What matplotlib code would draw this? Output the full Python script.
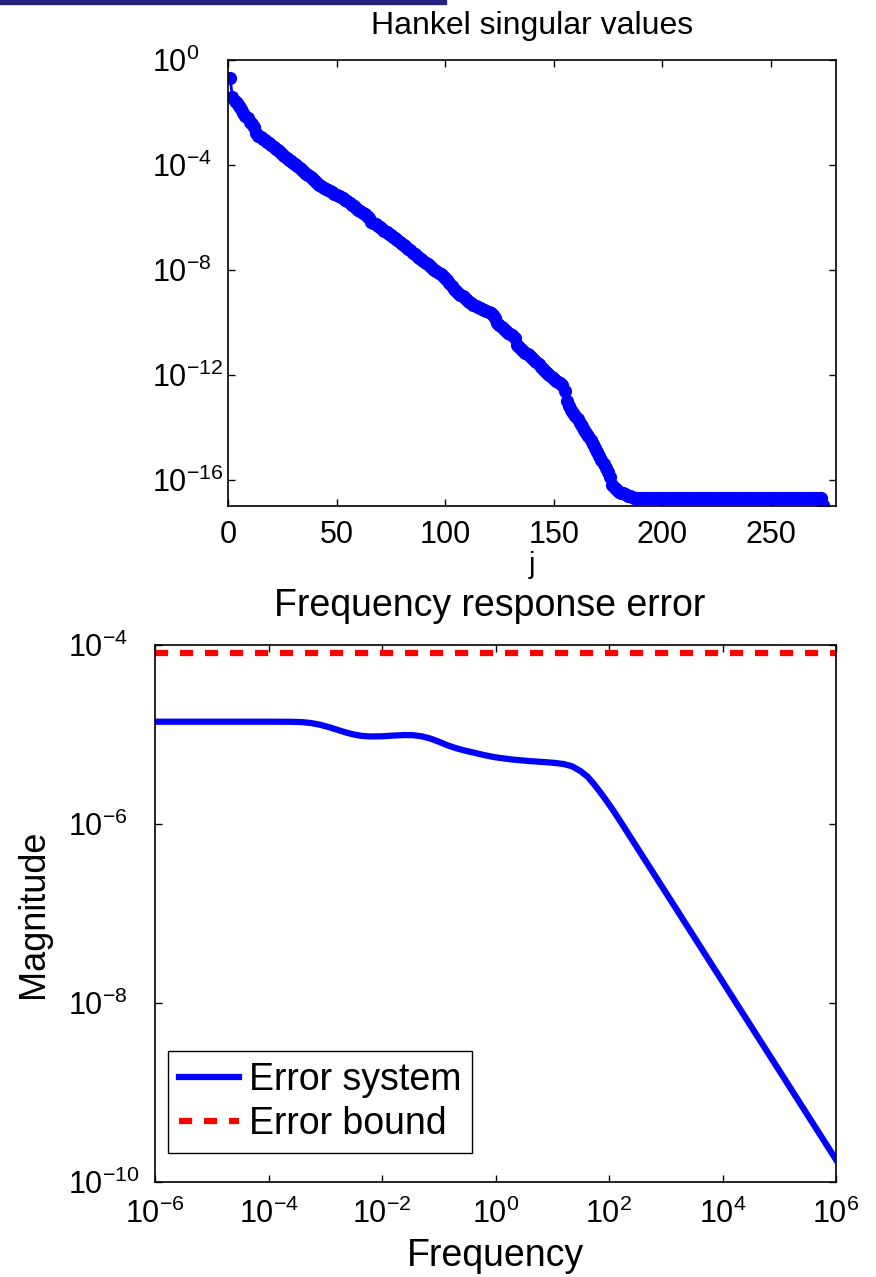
import matplotlib.pyplot as plt
import numpy as np
from matplotlib.patches import Rectangle

plt.rcParams['font.family'] = ['Liberation Sans', 'DejaVu Sans']
plt.rcParams['mathtext.fontset'] = 'custom'
plt.rcParams['mathtext.rm'] = 'Liberation Sans'
plt.rcParams['mathtext.it'] = 'Liberation Sans:italic'

# valores singulares de Hankel (log10), j = 1..274
hsv_log10 = [
    -0.70, -1.41, -1.55, -1.63, -1.75, -1.86, -2.03, -2.12, -2.22, -2.35,
    -2.45, -2.56, -2.78, -2.88, -2.94, -3.00, -3.06, -3.11, -3.18, -3.25,
    -3.31, -3.38, -3.44, -3.52, -3.60, -3.66, -3.73, -3.80, -3.86, -3.92,
    -3.98, -4.04, -4.11, -4.18, -4.26, -4.33, -4.40, -4.47, -4.55, -4.62,
    -4.69, -4.76, -4.82, -4.88, -4.93, -4.97, -5.01, -5.05, -5.09, -5.13,
    -5.18, -5.22, -5.27, -5.33, -5.39, -5.45, -5.51, -5.58, -5.64, -5.70,
    -5.76, -5.82, -5.88, -5.93, -6.04, -6.16, -6.22, -6.27, -6.33, -6.38,
    -6.44, -6.50, -6.56, -6.62, -6.67, -6.73, -6.80, -6.86, -6.93, -7.00,
    -7.07, -7.13, -7.19, -7.26, -7.35, -7.41, -7.47, -7.54, -7.60, -7.66,
    -7.72, -7.78, -7.85, -7.92, -7.99, -8.05, -8.10, -8.17, -8.25, -8.32,
    -8.38, -8.50, -8.62, -8.73, -8.82, -8.88, -8.94, -9.00, -9.07, -9.14,
    -9.21, -9.27, -9.32, -9.36, -9.40, -9.44, -9.49, -9.53, -9.58, -9.62,
    -9.66, -9.71, -9.82, -10.03, -10.10, -10.18, -10.26, -10.33, -10.40, -10.45,
    -10.48, -10.60, -10.86, -10.93, -11.00, -11.08, -11.15, -11.21, -11.28, -11.36,
    -11.44, -11.52, -11.60, -11.69, -11.78, -11.86, -11.94, -12.02, -12.10, -12.17,
    -12.23, -12.29, -12.33, -12.40, -12.60, -13.00, -13.20, -13.34, -13.45, -13.56,
    -13.68, -13.82, -13.95, -14.09, -14.22, -14.35, -14.48, -14.62, -14.78, -14.95,
    -15.10, -15.25, -15.40, -15.56, -15.72, -15.88, -16.20, -16.32, -16.40, -16.45,
    -16.49, -16.52, -16.56, -16.60, -16.63, -16.66, -16.68, -16.69, -16.69, -16.69,
] + [-16.69] * 83 + [-16.95]
j_idx = np.arange(1, len(hsv_log10) + 1)

# error de la respuesta en frecuencia (log10 f, log10 |E|)
freq_log10 = [-6.0, -4.0, -3.6, -3.4, -3.25, -3.1, -2.95, -2.8, -2.65, -2.5,
              -2.35, -2.2, -2.0, -1.8, -1.6, -1.45, -1.3, -1.15, -1.0, -0.85,
              -0.7, -0.55, -0.4, -0.2, 0.0, 0.3, 0.6, 0.9, 1.05, 1.2,
              1.35, 1.5, 1.62, 1.73, 1.84, 1.95, 2.06, 2.2, 3.0, 4.0,
              5.0, 6.0]
err_log10 = [-4.857, -4.857, -4.858, -4.862, -4.872, -4.89, -4.915, -4.945, -4.975, -5.00,
             -5.016, -5.022, -5.02, -5.012, -5.006, -5.008, -5.02, -5.045, -5.08, -5.12,
             -5.152, -5.178, -5.20, -5.23, -5.255, -5.28, -5.297, -5.31, -5.318, -5.33,
             -5.355, -5.41, -5.47, -5.55, -5.64, -5.735, -5.835, -5.97, -6.765, -7.76,
             -8.755, -9.75]
err_bound = 8.1e-5

freq = 10.0 ** np.array(freq_log10)
err = 10.0 ** np.array(err_log10)
hsv = 10.0 ** np.array(hsv_log10)

fig = plt.figure(figsize=(8.76, 12.77), dpi=100)
fig.patches.append(Rectangle((0, 1 - 4 / 1277), 446 / 876, 4 / 1277,
                             transform=fig.transFigure, color='#22227f'))

# --- arriba: valores singulares ---
ax1 = fig.add_axes([228 / 876, 771 / 1277, 608 / 876, 446 / 1277])
ax1.semilogy(j_idx, hsv, '-o', color='blue', lw=2, ms=8.5, mec='blue')
ax1.set_xlim(0, 280)
ax1.set_ylim(1e-17, 1e0)
ax1.set_xticks([0, 50, 100, 150, 200, 250])
ax1.set_yticks([1e-16, 1e-12, 1e-8, 1e-4, 1e0])
ax1.yaxis.set_minor_locator(plt.NullLocator())
ax1.tick_params(direction='in', top=True, right=True, length=5, width=1, labelsize=22)
ax1.tick_params(axis='y', pad=55)
ax1.tick_params(axis='x', pad=10)
for t in ax1.get_yticklabels():
    t.set_horizontalalignment('left')
ax1.set_title('Hankel singular values', fontsize=23, pad=19)
ax1.set_xlabel('j', fontsize=21, labelpad=1)

# --- abajo: error en frecuencia ---
ax2 = fig.add_axes([155 / 876, 95 / 1277, 681 / 876, 537 / 1277])
ax2.loglog(freq, err, '-', color='blue', lw=4.5, label='Error system')
ax2.axhline(err_bound, color='red', lw=4.5, ls=(0, (2.1, 1.9)), label='Error bound')
ax2.set_xlim(1e-6, 1e6)
ax2.set_ylim(1e-10, 1e-4)
ax2.set_xticks([1e-6, 1e-4, 1e-2, 1e0, 1e2, 1e4, 1e6])
ax2.set_yticks([1e-10, 1e-8, 1e-6, 1e-4])
ax2.xaxis.set_minor_locator(plt.NullLocator())
ax2.yaxis.set_minor_locator(plt.NullLocator())
ax2.tick_params(direction='in', top=True, right=True, length=5, width=1, labelsize=22)
ax2.tick_params(axis='y', pad=63)
ax2.tick_params(axis='x', pad=12)
for t in ax2.get_yticklabels():
    t.set_horizontalalignment('left')
ax2.set_title('Frequency response error', fontsize=27, pad=21, x=0.492)
ax2.set_xlabel('Frequency', fontsize=27, labelpad=6)
ax2.set_ylabel('Magnitude', fontsize=26, labelpad=12)
leg = ax2.legend(loc='lower left', bbox_to_anchor=(0.019, 0.054), borderaxespad=0,
                 fontsize=27, fancybox=False, framealpha=1, edgecolor='black',
                 handlelength=1.6, handletextpad=0.25, labelspacing=0.2, borderpad=0.3)
leg.get_frame().set_linewidth(1.0)

for ax in (ax1, ax2):
    for s in ax.spines.values():
        s.set_linewidth(1.2)

plt.savefig('out.png', dpi=100)
